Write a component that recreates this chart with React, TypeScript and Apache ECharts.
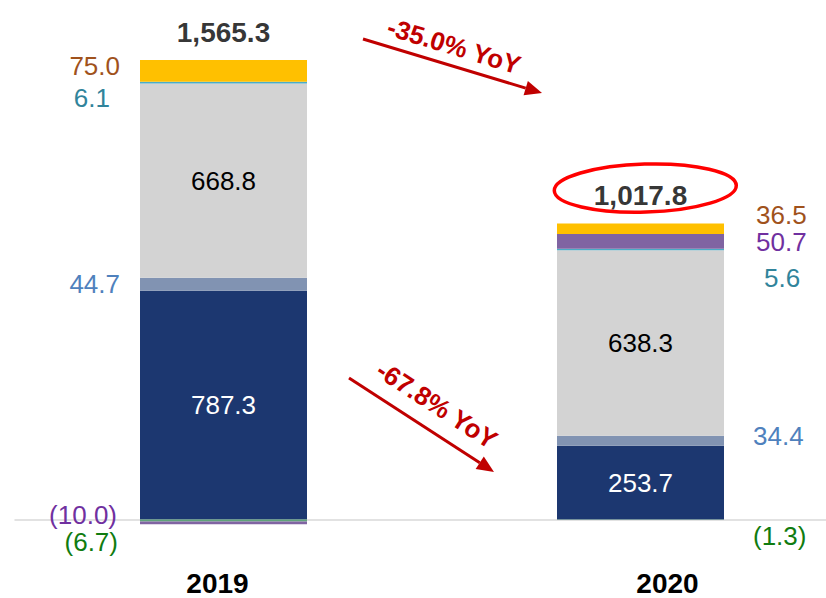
import React, { useEffect, useRef } from "react";
import * as echarts from "echarts";

const categories = ["2019", "2020"];
const navyValues = [787.3, 253.7];
const slateValues = [44.7, 34.4];
const greyValues = [668.8, 638.3];
const tealValues = [6.1, 5.6];
const greenValues = [-6.7, -1.3];
const purpleValues = [-10.0, 50.7];
const goldValues = [75.0, 36.5];
const totalValues = [1565.3, 1017.8];

const FONT = "'Liberation Sans', Arial, sans-serif";

const fmt = (v: number) => (v < 0 ? `(${Math.abs(v).toFixed(1)})` : v.toFixed(1));
const fmtTotal = (v: number) =>
  v.toLocaleString("en-US", { minimumFractionDigits: 1, maximumFractionDigits: 1 });

type LabelCfg = { position: string; offset?: number[]; color: string; distance?: number };

function makeSeries(name: string, values: number[], color: string, labels: LabelCfg[]) {
  return {
    name,
    type: "bar",
    stack: "total",
    barWidth: 167,
    itemStyle: { color },
    data: values.map((v, i) => ({
      value: v,
      label: {
        show: true,
        position: labels[i].position,
        distance: labels[i].distance ?? (labels[i].position === "left" ? 20 : 32),
        offset: labels[i].offset ?? [0, 0],
        color: labels[i].color,
        fontSize: 26,
        fontFamily: FONT,
        formatter: () => fmt(v),
      },
    })),
  };
}

function arrowGraphics(x1: number, y1: number, x2: number, y2: number, color: string) {
  const dx = x2 - x1;
  const dy = y2 - y1;
  const len = Math.sqrt(dx * dx + dy * dy);
  const ux = dx / len;
  const uy = dy / len;
  const nx = -uy;
  const ny = ux;
  const hl = 17;
  const hw = 7.5;
  const bx = x2 - ux * hl;
  const by = y2 - uy * hl;
  return [
    {
      type: "line",
      shape: { x1, y1, x2: bx, y2: by },
      style: { stroke: color, lineWidth: 3 },
    },
    {
      type: "polygon",
      shape: {
        points: [
          [x2, y2],
          [bx + nx * hw, by + ny * hw],
          [bx - nx * hw, by - ny * hw],
        ],
      },
      style: { fill: color },
    },
  ];
}

export default function App() {
  const ref = useRef<HTMLDivElement>(null);

  useEffect(() => {
    if (!ref.current) return;
    const chart = echarts.init(ref.current, null, { renderer: "svg" });

    const posSums = categories.map((_, i) =>
      [navyValues, slateValues, greyValues, tealValues, greenValues, purpleValues, goldValues]
        .map((a) => a[i])
        .filter((v) => v > 0)
        .reduce((s, v) => s + v, 0)
    );

    const red = "#c00000";

    const option: any = {
      animation: false,
      grid: {
        left: 15,
        right: -23,
        top: 25.65,
        bottom: 66.9,
        containLabel: false,
        outerBoundsMode: "none",
      },
      xAxis: {
        type: "category",
        data: categories,
        axisTick: { show: false },
        axisLine: { show: true, onZero: true, lineStyle: { color: "#d9d9d9", width: 1.5 } },
        axisLabel: {
          margin: 38,
          formatter: (val: string) => (val === "2019" ? `{a|${val}}` : `{b|${val}}`),
          rich: {
            a: { fontSize: 28, lineHeight: 28, fontWeight: "bold", fontFamily: FONT, color: "#000", padding: [0, 12, 0, 0] },
            b: { fontSize: 28, lineHeight: 28, fontWeight: "bold", fontFamily: FONT, color: "#000", padding: [0, 0, 0, 54] },
          },
        },
      },
      yAxis: {
        type: "value",
        min: -40,
        max: 1700,
        show: false,
        splitLine: { show: false },
      },
      series: [
        makeSeries("navy", navyValues, "#1c3770", [
          { position: "inside", color: "#ffffff" },
          { position: "inside", color: "#ffffff" },
        ]),
        makeSeries("slate", slateValues, "#8193b2", [
          { position: "left", color: "#4f81bd" },
          { position: "right", color: "#4f81bd", offset: [-3, -5] },
        ]),
        makeSeries("grey", greyValues, "#d3d3d3", [
          { position: "inside", color: "#000000" },
          { position: "inside", color: "#000000" },
        ]),
        makeSeries("teal", tealValues, "#4bacc6", [
          { position: "left", color: "#31849b", offset: [-10, 15] },
          { position: "right", color: "#31849b", offset: [8, 28] },
        ]),
        makeSeries("green", greenValues, "#5fa37a", [
          { position: "left", color: "#107c10", offset: [-2, 22] },
          { position: "right", color: "#107c10", offset: [-3, 16] },
        ]),
        makeSeries("purple", purpleValues, "#8064a2", [
          { position: "left", color: "#7030a0", offset: [-3, -8] },
          { position: "right", color: "#7030a0", offset: [0, 1] },
        ]),
        makeSeries("gold", goldValues, "#ffc000", [
          { position: "left", color: "#a0521c", offset: [0, -5] },
          { position: "right", color: "#a0521c", offset: [0, -14] },
        ]),
        {
          name: "total",
          type: "scatter",
          symbolSize: 1,
          itemStyle: { color: "rgba(0,0,0,0)" },
          data: posSums,
          label: {
            show: true,
            position: "top",
            distance: 13,
            color: "#000000",
            fontSize: 28,
            fontWeight: "bold",
            fontFamily: FONT,
            formatter: (p: any) => fmtTotal(totalValues[p.dataIndex]),
          },
        },
      ],
      graphic: [
        ...arrowGraphics(363, 39, 542, 93, red),
        ...arrowGraphics(349, 378, 494, 472, red),
        {
          type: "text",
          x: 454,
          y: 46,
          rotation: -0.293,
          style: {
            text: "-35.0% YoY",
            fill: red,
            fontSize: 26,
            fontWeight: "bold",
            fontFamily: FONT,
            align: "center",
            verticalAlign: "middle",
          },
        },
        {
          type: "text",
          x: 437,
          y: 405,
          rotation: -0.576,
          style: {
            text: "-67.8% YoY",
            fill: red,
            fontSize: 26,
            fontWeight: "bold",
            fontFamily: FONT,
            align: "center",
            verticalAlign: "middle",
          },
        },
        {
          type: "ellipse",
          shape: { cx: 645, cy: 188, rx: 91, ry: 24 },
          rotation: 0.03,
          originX: 645,
          originY: 188,
          style: { fill: "none", stroke: "#ff0000", lineWidth: 3.5 },
        },
      ],
    };

    chart.setOption(option);
    return () => chart.dispose();
  }, []);

  return (
    <div
      ref={ref}
      style={{ position: "absolute", left: 0, top: 0, width: 826, height: 598 }}
    />
  );
}
